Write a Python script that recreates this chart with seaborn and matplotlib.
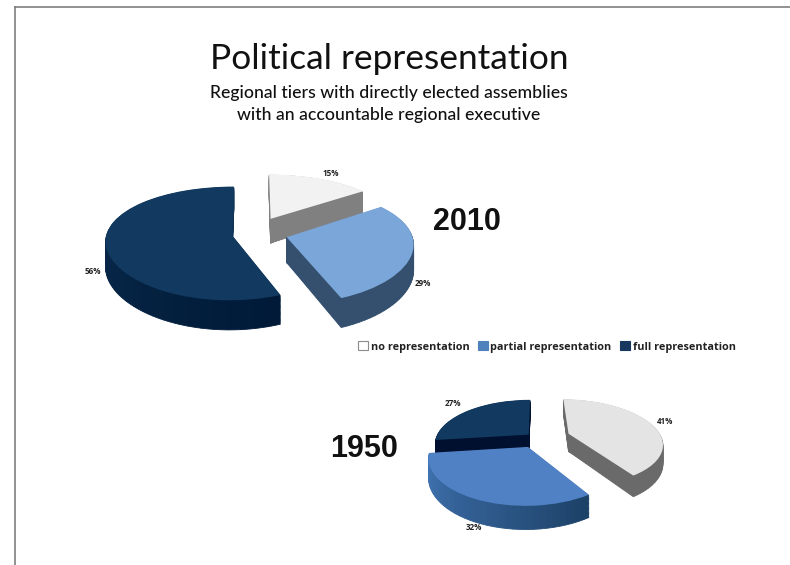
import numpy as np
import matplotlib
matplotlib.use("Agg")
import matplotlib.pyplot as plt
from matplotlib.patches import Patch
from matplotlib.transforms import Transform
import seaborn as sns

categories = ["no representation", "partial representation", "full representation"]
shares_2010 = [15, 29, 56]
shares_1950 = [41, 32, 27]
legend_colors = ["#ffffff", "#4f81bd", "#17375e"]

top_2010 = ["#f2f2f2", "#7ba6d9", "#123a60"]
top_1950 = ["#e4e4e4", "#4f81c4", "#123a60"]
side_2010 = [("#808080", "#808080"), ("#34506e", "#34506e"), ("#001a38", "#103458")]
side_1950 = [("#6a6a6a", "#6a6a6a"), ("#1d4268", "#4478b8"), ("#021030", "#021030")]
explode_2010 = [0.30, 0.27, 0.18]
explode_1950 = [0.36, 0.22, 0.12]
stack_2010 = [0, 1, 0]
stack_1950 = [1, 2, 0]


class TiltedDisc(Transform):
    """Projects the unit-circle pie plane onto the page with foreshortening."""
    input_dims = 2
    output_dims = 2
    is_affine = False
    has_inverse = False

    def __init__(self, cx, cy, rx, ry, persp_x, persp_y, drop=0.0):
        super().__init__()
        self.cx, self.cy, self.rx, self.ry = cx, cy, rx, ry
        self.persp_x, self.persp_y, self.drop = persp_x, persp_y, drop

    def transform_non_affine(self, values):
        values = np.asarray(values, dtype=float)
        x, y = values[:, 0], values[:, 1]
        sx = 1.0 / (1.0 + self.persp_x * y)
        sy = 1.0 / (1.0 + self.persp_y * y)
        return np.column_stack((self.cx + self.rx * x * sx,
                                self.cy - self.ry * y * sy + self.drop * sy))


def slice_3d(ax, shares, explode, tops, sides, stack, view, height):
    total = sum(shares)
    steps = 36
    start = 0.0
    for i, share in enumerate(shares):
        mid = np.deg2rad((start + share / 2) / total * 360)
        centre = (explode[i] * np.sin(mid), explode[i] * np.cos(mid))
        fine = np.full(steps, share / total / steps)
        shades = sns.blend_palette(list(sides[i]), steps)
        for level in np.arange(height, 0, -1.0):
            wedges, _ = ax.pie(
                fine, colors=shades, center=centre, radius=1, frame=True,
                startangle=90 - start / total * 360, counterclock=False,
                normalize=False,
                wedgeprops=dict(transform=TiltedDisc(*view, level) + ax.transData,
                                linewidth=0.6),
            )
            for w, c in zip(wedges, shades):
                w.set_edgecolor(c)
                w.set_zorder(2 + stack[i])
        start += share
    faces, _ = ax.pie(
        shares, colors=tops, explode=explode, radius=1, frame=True,
        startangle=90, counterclock=False,
        wedgeprops=dict(transform=TiltedDisc(*view) + ax.transData, linewidth=0),
    )
    for i, w in enumerate(faces):
        w.set_zorder(2.5 + stack[i])


sns.set_theme(style="white")
fig = plt.figure(figsize=(7.9, 5.65), dpi=100, facecolor="white")
ax = fig.add_axes([15 / 790, 0, 775 / 790, 558 / 565])
ax.set_autoscale_on(False)
ax.set_xlim(15, 790)
ax.set_ylim(565, 7)

slice_3d(ax, shares_2010, explode_2010, top_2010, side_2010, stack_2010,
         (254, 233, 125, 55, 0.10, 0.15), 25)
slice_3d(ax, shares_1950, explode_1950, top_1950, side_1950, stack_1950,
         (537, 438, 93, 43, 0.2, 0.2), 18)

ax.set_aspect("auto")
ax.set_xlim(15, 790)
ax.set_ylim(565, 7)
ax.set_xticks([])
ax.set_yticks([])
for name in ("right", "bottom"):
    ax.spines[name].set_visible(False)
for name in ("left", "top"):
    ax.spines[name].set_color("#7f7f7f")
    ax.spines[name].set_linewidth(1.2)

body = "Lato"
ax.text(389, 59, "Political representation", family=body, fontsize=25.4,
        ha="center", va="center", color="#111111")
ax.text(389, 93, "Regional tiers with directly elected assemblies", family=body,
        fontsize=12.7, fontweight="medium", ha="center", va="center", color="#111111")
ax.text(389, 115, "with an accountable regional executive", family=body,
        fontsize=12.7, fontweight="medium", ha="center", va="center", color="#111111")

for year, x, y in (("2010", 467, 222), ("1950", 364, 449)):
    ax.text(x, y, year, family="Liberation Sans", fontweight="bold", fontsize=22,
            ha="center", va="center", color="#111111")

label_spots = {15: (331, 173), 29: (423, 284), 56: (93, 272),
               41: (665, 422), 32: (474, 528), 27: (453, 403)}
for value, (x, y) in label_spots.items():
    ax.text(x, y, f"{value}%", family="Open Sans", fontweight="bold", fontsize=5.8,
            ha="center", va="center", color="#222222")

handles = [Patch(facecolor=c, edgecolor="#8c8c8c" if c == "#ffffff" else c, linewidth=0.8)
           for c in legend_colors]
ax.legend(handles, categories, ncol=3, frameon=False, loc="center",
          bbox_to_anchor=(547, 347), bbox_transform=ax.transData,
          prop=dict(family="Open Sans", weight="bold", size=7.8),
          handlelength=0.9, handleheight=0.9, handletextpad=0.25, columnspacing=0.8,
          labelcolor="#222222")

fig.savefig("out.png", dpi=100)
